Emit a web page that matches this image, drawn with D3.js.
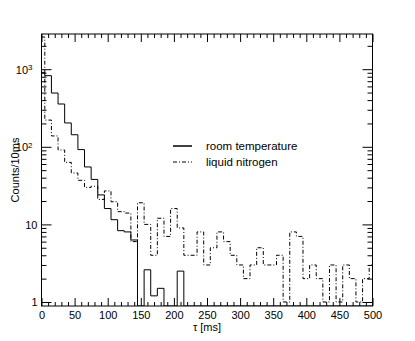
<!DOCTYPE html>
<html>
<head>
<meta charset="utf-8">
<script src="https://cdn.jsdelivr.net/npm/d3@7"></script>
<style>
  body { margin: 0; background: #fff; }
  text { font-family: "Liberation Sans", Arial, sans-serif; fill: #000; }
</style>
</head>
<body>
<svg></svg>
<script>
// bins are 10 ms wide and centred on multiples of 10
const binCenters = [0, 10, 20, 30, 40, 50, 60, 70, 80, 90,
  100, 110, 120, 130, 140, 150, 160, 170, 180, 190,
  200, 210, 220, 230, 240, 250, 260, 270, 280, 290,
  300, 310, 320, 330, 340, 350, 360, 370, 380, 390,
  400, 410, 420, 430, 440, 450, 460, 470, 480, 490, 500];

const roomTemp = [910, 825, 493, 356, 203, 143, 92, 55, 38, 24,
  16, 11.5, 8.3, 8.0, 6.3, 0, 2.6, 1.2, 1.5, 0,
  0, 2.5, 0, 0, 0, 0, 0, 0, 0, 0,
  0, 0, 0, 0, 0, 0, 0, 0, 0, 0,
  0, 0, 0, 0, 0, 0, 0, 0, 0, 0, 0];

const liquidN2 = [2600, 221, 138, 91, 63, 46, 37, 30, 31, 21,
  27, 19.6, 14.6, 14, 6, 19, 10, 4, 12, 7,
  16, 9, 4, 4, 8, 3, 5, 8, 6, 4,
  3, 2, 3, 5, 3, 3, 4, 1, 8, 7,
  2, 3, 2, 1, 3, 1, 3, 2, 1, 2, 3];

const xTickLabels = [0, 50, 100, 150, 200, 250, 300, 350, 400, 450, 500];
const yTickLabels = [1, 10, 100, 1000];
const seriesNames = ['room temperature', 'liquid nitrogen'];

const W = 415, H = 341;
const frame = { left: 41.5, right: 372.5, top: 34, bottom: 306 };
const halfBin = 5;
const dashDot = '4,2,1,2';

const svg = d3.select('svg')
    .attr('width', W)
    .attr('height', H);

const x = d3.scaleLinear().domain([0, 500]).range([frame.left, frame.right]);
const y = d3.scaleLog().domain([0.888, 2842]).range([frame.bottom, frame.top]);

svg.append('clipPath').attr('id', 'frame-clip')
  .append('rect')
    .attr('x', frame.left).attr('y', frame.top)
    .attr('width', frame.right - frame.left)
    .attr('height', frame.bottom - frame.top);

// histogram outline: left edge of every bin, then close at 500
function steps(values) {
  const pts = binCenters.map((c, i) => [Math.max(0, c - halfBin), values[i]]);
  pts.push([500, values[values.length - 1]]);
  return pts;
}

const line = d3.line()
    .x(d => x(d[0]))
    .y(d => d[1] > 0 ? y(Math.max(d[1], y.domain()[0])) : frame.bottom)
    .curve(d3.curveStepAfter);

const plot = svg.append('g').attr('clip-path', 'url(#frame-clip)');

plot.append('path')
    .attr('d', line(steps(liquidN2)))
    .attr('fill', 'none')
    .attr('stroke', '#000')
    .attr('stroke-width', 1)
    .attr('stroke-dasharray', dashDot);

plot.append('path')
    .attr('d', line(steps(roomTemp)))
    .attr('fill', 'none')
    .attr('stroke', '#000')
    .attr('stroke-width', 1);

// axes, ticks drawn inside the frame like ROOT
const minorX = binCenters.filter(v => v % 50 !== 0);
const logMinor = [];
[1, 10, 100, 1000].forEach(d => {
  for (let k = 2; k <= 9; k++) if (d * k < y.domain()[1]) logMinor.push(d * k);
});

function styleAxis(g) {
  g.select('.domain').remove();
  g.selectAll('line').attr('stroke', '#000');
  g.selectAll('text')
      .style('font-family', '"Liberation Sans", Arial, sans-serif')
      .style('font-size', '11px');
}

svg.append('g')
    .attr('transform', `translate(0,${frame.bottom})`)
    .call(d3.axisBottom(x).tickValues(xTickLabels).tickFormat(d3.format('d'))
      .tickSizeInner(-8).tickSizeOuter(0).tickPadding(5))
    .call(styleAxis);
svg.append('g')
    .attr('transform', `translate(0,${frame.bottom})`)
    .call(d3.axisBottom(x).tickValues(minorX).tickFormat('')
      .tickSizeInner(-4).tickSizeOuter(0))
    .call(styleAxis);
svg.append('g')
    .attr('transform', `translate(0,${frame.top})`)
    .call(d3.axisTop(x).tickValues(xTickLabels).tickFormat('')
      .tickSizeInner(-8).tickSizeOuter(0))
    .call(styleAxis);
svg.append('g')
    .attr('transform', `translate(0,${frame.top})`)
    .call(d3.axisTop(x).tickValues(minorX).tickFormat('')
      .tickSizeInner(-4).tickSizeOuter(0))
    .call(styleAxis);

const yAxis = svg.append('g')
    .attr('transform', `translate(${frame.left},0)`)
    .call(d3.axisLeft(y).tickValues(yTickLabels).tickFormat('')
      .tickSizeInner(-10).tickSizeOuter(0))
    .call(styleAxis);
svg.append('g')
    .attr('transform', `translate(${frame.left},0)`)
    .call(d3.axisLeft(y).tickValues(logMinor).tickFormat('')
      .tickSizeInner(-5).tickSizeOuter(0))
    .call(styleAxis);
svg.append('g')
    .attr('transform', `translate(${frame.right},0)`)
    .call(d3.axisRight(y).tickValues(yTickLabels).tickFormat('')
      .tickSizeInner(-10).tickSizeOuter(0))
    .call(styleAxis);
svg.append('g')
    .attr('transform', `translate(${frame.right},0)`)
    .call(d3.axisRight(y).tickValues(logMinor).tickFormat('')
      .tickSizeInner(-5).tickSizeOuter(0))
    .call(styleAxis);

// y labels 1, 10, 10^2, 10^3
yAxis.selectAll('.tick').each(function(d) {
  const e = Math.round(Math.log10(d));
  const t = d3.select(this).append('text')
      .attr('x', e < 2 ? -4 : -9)
      .attr('dy', '0.35em')
      .attr('text-anchor', 'end')
      .style('font-size', '11px');
  if (e < 2) {
    t.text(d);
  } else {
    t.append('tspan').text('10');
    t.append('tspan').attr('dy', '-0.45em').style('font-size', '8px').text(e);
  }
});

svg.append('rect')
    .attr('x', frame.left).attr('y', frame.top)
    .attr('width', frame.right - frame.left)
    .attr('height', frame.bottom - frame.top)
    .attr('fill', 'none')
    .attr('stroke', '#000')
    .attr('stroke-width', 1);

svg.append('text')
    .attr('x', (frame.left + frame.right) / 2)
    .attr('y', 331)
    .attr('text-anchor', 'middle')
    .style('font-size', '11px')
    .text('τ [ms]');

svg.append('text')
    .attr('transform', `translate(19,${(frame.top + frame.bottom) / 2}) rotate(-90)`)
    .attr('text-anchor', 'middle')
    .style('font-size', '11px')
    .text('Counts/10ms');

// legend
const legend = svg.append('g');
seriesNames.forEach((name, i) => {
  const ly = 146 + i * 16;
  legend.append('line')
      .attr('x1', 173).attr('x2', 192)
      .attr('y1', ly).attr('y2', ly)
      .attr('stroke', '#000')
      .attr('stroke-width', i === 0 ? 1.5 : 1)
      .attr('stroke-dasharray', i === 0 ? null : dashDot);
  legend.append('text')
      .attr('x', 206)
      .attr('y', ly)
      .attr('dy', '0.35em')
      .style('font-size', '11.5px')
      .text(name);
});
</script>
</body>
</html>
